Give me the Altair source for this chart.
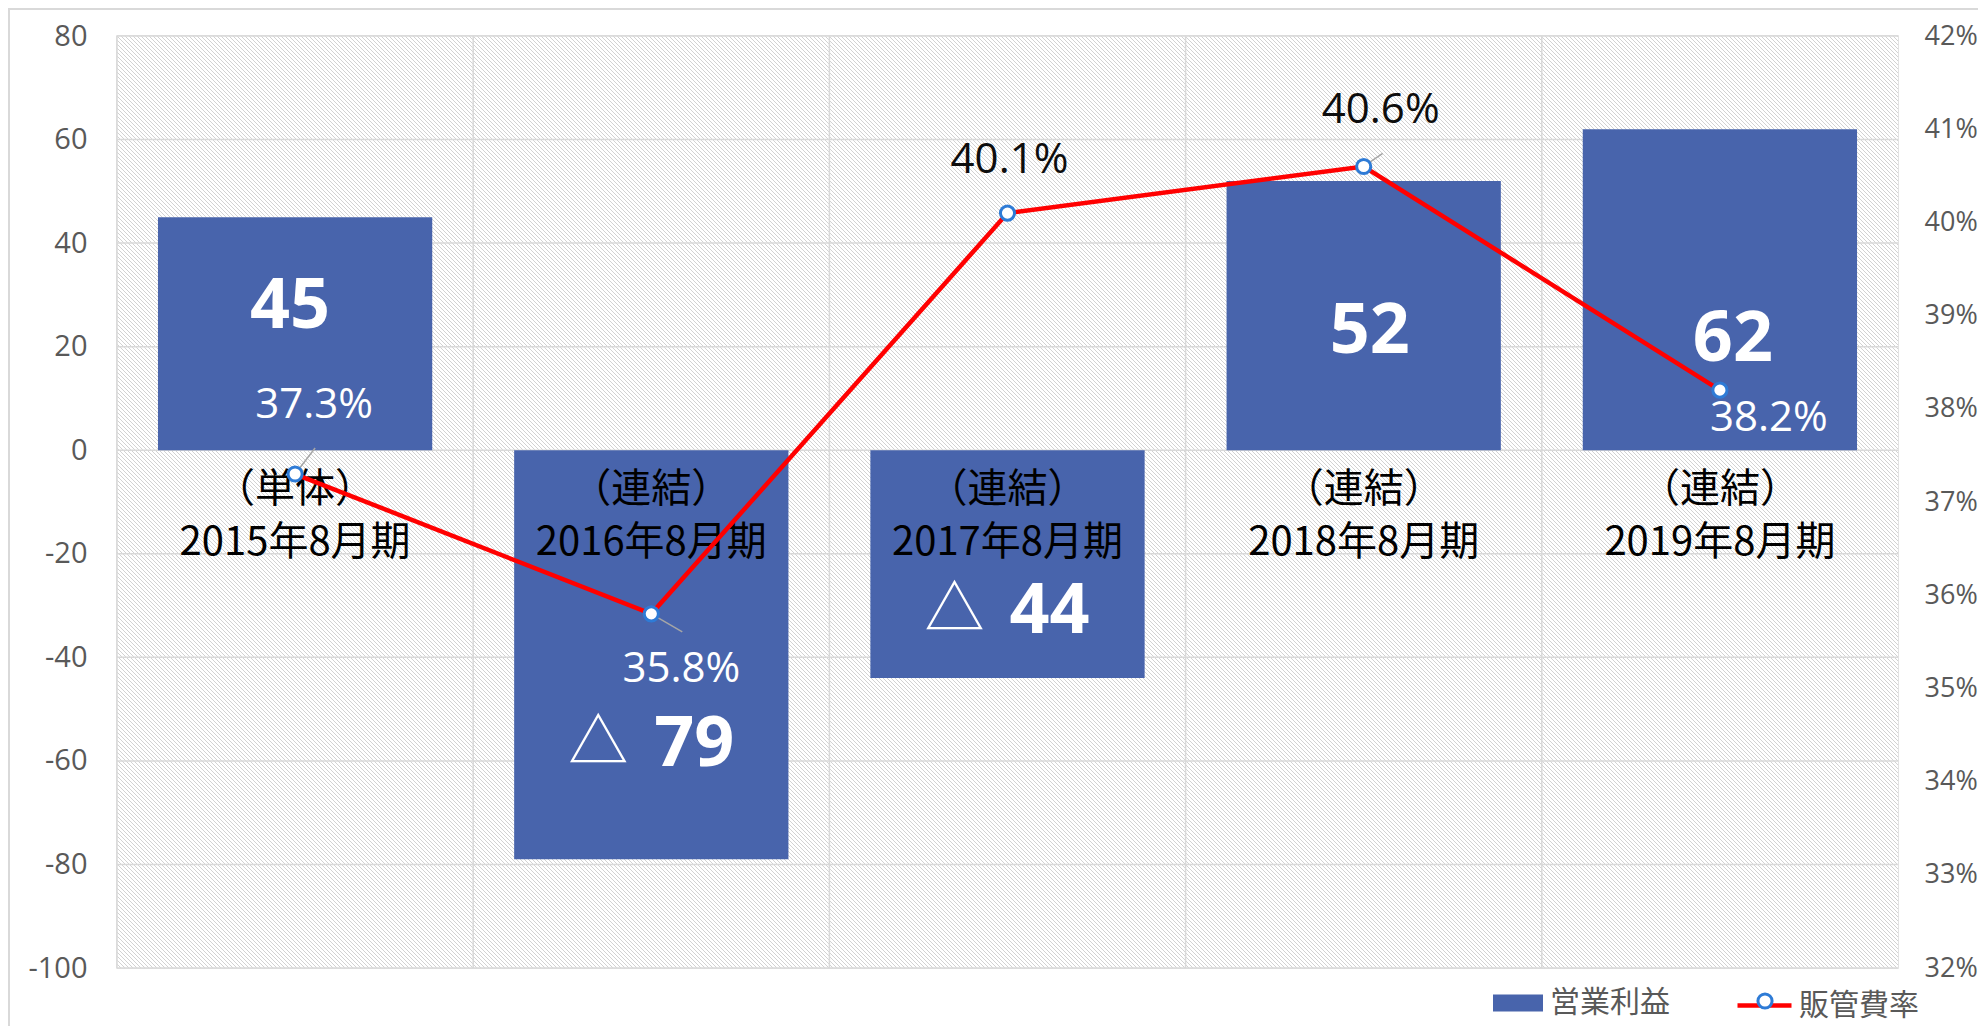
import altair as alt
import pandas as pd

# ---------------- data ----------------
categories = ['2015年8月期', '2016年8月期', '2017年8月期', '2018年8月期', '2019年8月期']
category_kind = ['（単体）', '（連結）', '（連結）', '（連結）', '（連結）']
operating_profit = [45, -79, -44, 52, 62]
sga_ratio = [37.3, 35.8, 40.1, 40.6, 38.2]
left_ticks = [-100, -80, -60, -40, -20, 0, 20, 40, 60, 80]
right_ticks = [32, 33, 34, 35, 36, 37, 38, 39, 40, 41, 42]
bar_series = '営業利益'
line_series = '販管費率'

# ---------------- styles ----------------
W, H = 1781, 932
BAR = '#4864AC'
GRID = '#D9D9D9'
AXC = '#595959'
JP = 'Noto Sans CJK JP'
LAT = 'Open Sans'
PT = '#2E7BD6'

bar_lab_dx = [-5, 43, 42, 6, 13]
bar_lab_dy = [-27, 90, 48, 16, 50]
tri_dx = -53
rate_dx = [19, 30, 2, 17, 49]
rate_dy = [-69, 55, -53, -56, 28]
rate_col = ['white', 'white', '#0D0D0D', '#0D0D0D', 'white']
leaders = {0: (20, -26), 1: (31, 18), 3: (19, -13)}

df = pd.DataFrame({
    'idx': list(range(len(categories))),
    'cat': categories,
    'kind': category_kind,
    'profit': operating_profit,
    'ratio': sga_ratio,
})
df['num'] = [str(abs(v)) for v in operating_profit]
df['rlab'] = [f'{v:.1f}%' for v in sga_ratio]
df['s_bar'] = bar_series
df['s_line'] = line_series
df['s_pt'] = ' '

# hatch gradient (decorative background)
r = H / W
s = (1 + r) / (1 + r * r)
period = 4
total = W + H
stops = []
for k in range(-H // period, W // period + 1):
    c = k * period
    a = min(max((c - 0.5 + H) / total, 0), 1)
    b = min(max((c + 0.5 + H) / total, 0), 1)
    stops += [{'offset': a, 'color': '#FFFFFF'}, {'offset': a, 'color': '#D2D2D2'},
              {'offset': b, 'color': '#D2D2D2'}, {'offset': b, 'color': '#FFFFFF'}]
hatch_fill = {'gradient': 'linear', 'x1': 0, 'y1': 1, 'x2': s, 'y2': 1 - r * s, 'stops': stops}

xs = alt.Scale(domain=categories, paddingInner=0, paddingOuter=0)
X = alt.X('cat:N', sort=categories, scale=xs, axis=None)

yl_scale = alt.Scale(domain=[-100, 80], nice=False, zero=False)
yl_axis = alt.Axis(orient='left', values=left_ticks, ticks=False, domain=False, grid=False,
                   labelPadding=30, labelFontSize=29, labelColor=AXC, labelFont=LAT, title=None,
                   labelExpr="'' + datum.value")
yr_scale = alt.Scale(domain=[32, 42], nice=False, zero=False)
yr_axis = alt.Axis(orient='right', values=right_ticks, ticks=False, domain=False, grid=False,
                   labelPadding=26, labelFontSize=27, labelColor=AXC, labelFont=LAT, title=None,
                   labelExpr="datum.value + '%'")


def YL(f):
    return alt.Y(f, scale=yl_scale, axis=yl_axis)


def YR(f):
    return alt.Y(f, scale=yr_scale, axis=yr_axis)


one = pd.DataFrame({'a': [0]})

frame = alt.Chart(one).mark_rect(fillOpacity=0, stroke=GRID, strokeWidth=2).encode(
    x=alt.value(-108), x2=alt.value(1875), y=alt.value(-27), y2=alt.value(1000))

hatch = alt.Chart(one).mark_rect(fill=hatch_fill).encode(
    x=alt.value(0), x2=alt.value('width'), y=alt.value(0), y2=alt.value('height'))

hgrid = alt.Chart(pd.DataFrame({'v': left_ticks})).mark_rule(color=GRID, strokeWidth=1.5).encode(
    y=YL('v:Q'))
vgrid = alt.Chart(df).mark_rule(color=GRID, strokeWidth=1.5).encode(
    x=alt.X('cat:N', sort=categories, scale=xs, axis=None, bandPosition=0))

bars = alt.Chart(df).mark_bar(width={'band': 0.77}).encode(
    x=X, y=YL('profit:Q'),
    color=alt.Color('s_bar:N', scale=alt.Scale(domain=[bar_series], range=[BAR]),
                    legend=alt.Legend(orient='none', legendX=1376, legendY=942, title=None,
                                      symbolType='M-1,-0.34H1V0.34H-1Z', symbolSize=2500,
                                      symbolStrokeWidth=0, labelFont=JP, labelFontSize=30,
                                      labelColor=AXC, labelOffset=7)))

left_layers = [hgrid, vgrid, bars]
for i in range(len(categories)):
    base = alt.Chart(df).transform_filter(alt.datum.idx == i).transform_calculate(mid='datum.profit/2')
    left_layers.append(base.mark_text(dx=bar_lab_dx[i], dy=bar_lab_dy[i], color='white', fontSize=70,
                                      font=LAT, fontWeight='bold', baseline='middle', align='center')
                       .encode(x=X, y=YL('mid:Q'), text='num:N'))
    if operating_profit[i] < 0:
        left_layers.append(base.mark_text(dx=tri_dx, dy=bar_lab_dy[i], color='white', fontSize=60,
                                          font=JP, baseline='middle', align='center')
                           .encode(x=X, y=YL('mid:Q'), text=alt.value('△')))

left_layers.append(alt.Chart(df).mark_text(dy=40, fontSize=40, font=JP, color='#000000',
                                           baseline='middle', align='center')
                   .encode(x=X, y=alt.Y(datum=0, scale=yl_scale, axis=yl_axis), text='kind:N'))
left_layers.append(alt.Chart(df).mark_text(dy=93, fontSize=40, font=JP, color='#000000',
                                           baseline='middle', align='center')
                   .encode(x=X, y=alt.Y(datum=0, scale=yl_scale, axis=yl_axis), text='cat:N'))

line = alt.Chart(df).mark_line(strokeWidth=4.5).encode(
    x=X, y=YR('ratio:Q'),
    stroke=alt.Stroke('s_line:N', scale=alt.Scale(domain=[line_series], range=['#FF0000']),
                      legend=alt.Legend(orient='none', legendX=1618, legendY=940, title=None,
                                        symbolType='stroke', symbolSize=2916, symbolStrokeWidth=4.5,
                                        labelFont=JP, labelFontSize=30, labelColor=AXC, labelOffset=5)))

right_layers = [line]
for i, (ddx, ddy) in leaders.items():
    right_layers.append(alt.Chart(df).transform_filter(alt.datum.idx == i)
                        .mark_rule(color='#A6A6A6', strokeWidth=1.5, x2Offset=ddx, y2Offset=ddy)
                        .encode(x=alt.X('cat:N', sort=categories, scale=xs, axis=None, bandPosition=0.5),
                                x2=alt.X2('cat:N', bandPosition=0.5),
                                y=YR('ratio:Q'), y2=alt.Y2('ratio:Q')))

points = alt.Chart(df).mark_point(filled=False, shape='circle', fill='white', strokeWidth=3,
                                  size=200, opacity=1, fillOpacity=1).encode(
    x=X, y=YR('ratio:Q'),
    color=alt.Color('s_pt:N', scale=alt.Scale(domain=[' '], range=[PT]),
                    legend=alt.Legend(orient='none', legendX=1633, legendY=950, title=None,
                                      symbolType='circle', symbolSize=200, labelOpacity=0,
                                      symbolOpacity=1, symbolFillColor='white',
                                      symbolStrokeWidth=3,
                                      labelFont=JP, labelFontSize=30)))
right_layers.append(points)

for i in range(len(categories)):
    right_layers.append(alt.Chart(df).transform_filter(alt.datum.idx == i)
                        .mark_text(dx=rate_dx[i], dy=rate_dy[i], color=rate_col[i], fontSize=42,
                                   font=LAT, baseline='middle', align='center')
                        .encode(x=X, y=YR('ratio:Q'), text='rlab:N'))

left = alt.layer(*left_layers)
right = alt.layer(*right_layers)

chart = alt.layer(frame, hatch, left, right).resolve_scale(
    y='independent', color='independent', stroke='independent'
).properties(
    width=W, height=H, autosize='none',
    padding={'left': 109, 'top': 28, 'right': 80, 'bottom': 58},
    background='white'
).configure_view(stroke=GRID, strokeWidth=1.5)

chart.save('out.html', embed_options={'renderer': 'svg', 'actions': False})
